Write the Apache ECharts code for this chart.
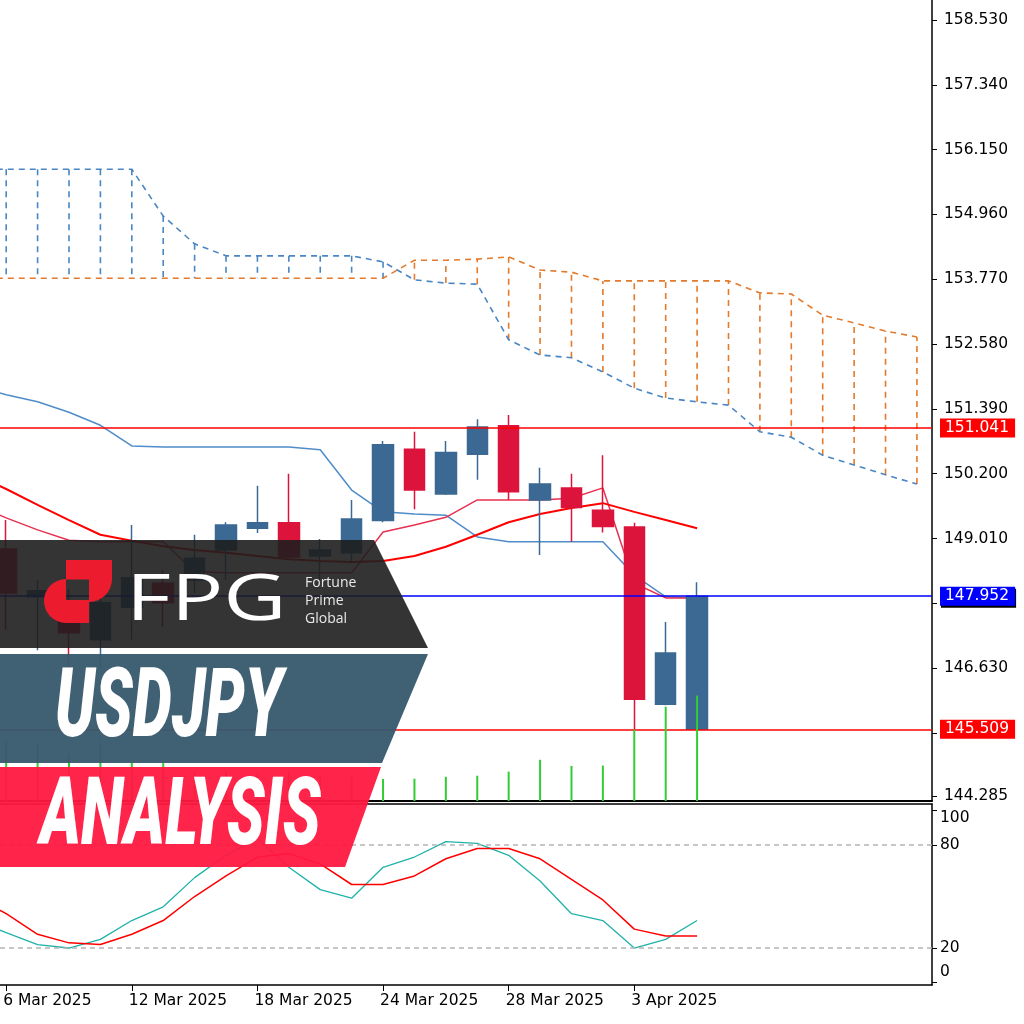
<!DOCTYPE html>
<html><head><meta charset="utf-8">
<script src="https://cdn.jsdelivr.net/npm/echarts@6/dist/echarts.min.js"></script>
<style>html,body{margin:0;padding:0;background:#fff}#c{width:1024px;height:1024px}</style>
</head><body><div id="c"></div>
<script>
// ---- data ----
const dates = ['6 Mar 2025','7 Mar 2025','10 Mar 2025','11 Mar 2025','12 Mar 2025','13 Mar 2025','14 Mar 2025','17 Mar 2025','18 Mar 2025','19 Mar 2025','20 Mar 2025','21 Mar 2025','24 Mar 2025','25 Mar 2025','26 Mar 2025','27 Mar 2025','28 Mar 2025','31 Mar 2025','1 Apr 2025','2 Apr 2025','3 Apr 2025','4 Apr 2025','7 Apr 2025'];
const open  = [148.82,147.94,147.79,147.15,147.75,148.19,148.25,148.80,149.20,149.30,148.69,148.75,149.34,150.65,149.83,150.56,151.08,149.72,149.94,149.53,149.22,145.97,145.51];
const close = [148.01,148.05,147.28,147.83,148.29,147.83,148.65,149.26,149.30,148.67,148.80,149.37,150.73,149.90,150.59,151.06,149.87,150.01,149.58,149.23,146.06,146.91,147.95];
const low   = [147.33,146.96,146.63,146.63,147.15,147.39,148.01,148.25,149.11,148.62,148.25,148.58,149.31,149.55,149.81,150.09,149.72,148.71,148.95,149.12,145.51,145.95,145.51];
const high  = [149.35,148.25,148.07,148.16,149.26,148.43,149.08,149.31,149.98,150.20,149.00,149.72,150.80,150.97,150.80,151.20,151.28,150.31,150.20,150.54,149.30,147.48,148.21];
const volume = [60200,58100,47300,58400,38200,37900,28000,30000,28000,30000,26000,24000,22100,22300,24200,25300,29400,41200,35100,35400,71300,94200,105400];

// indicator lines: first value belongs to the bar before 6 Mar (5 Mar)
const kijun  = [151.81,151.65,151.52,151.33,151.09,150.71,150.69,150.69,150.69,150.69,150.69,150.64,149.90,149.50,149.46,149.44,149.04,148.95,148.95,148.95,148.95,148.34,147.94,147.92];
const tenkan = [149.63,149.39,149.17,148.98,148.95,148.95,148.95,148.40,148.38,148.38,148.38,148.38,148.38,149.13,149.26,149.40,149.72,149.72,149.72,149.75,149.94,148.19,147.92,147.92];
const maLine = [150.18,149.92,149.63,149.35,149.08,148.97,148.87,148.80,148.75,148.69,148.63,148.60,148.58,148.60,148.69,148.86,149.08,149.31,149.46,149.57,149.66,149.50,149.35,149.20];
// cloud (shifted forward): bar -1 .. bar 29
const spanBlue   = [155.79,155.79,155.79,155.79,155.79,155.79,154.93,154.42,154.20,154.20,154.20,154.20,154.20,154.09,153.76,153.70,153.68,152.66,152.38,152.33,152.07,151.77,151.59,151.52,151.46,150.97,150.87,150.54,150.36,150.18,150.01];
const spanOrange = [153.79,153.79,153.79,153.79,153.79,153.79,153.79,153.79,153.79,153.79,153.79,153.79,153.79,153.79,154.12,154.12,154.14,154.18,153.94,153.90,153.74,153.74,153.74,153.74,153.74,153.52,153.50,153.11,152.97,152.82,152.71];
// stochastic: bar -1 .. bar 22
const stochK = [36,29,22,20,25,36,44,61,74,84,67,54,49,67,73,82,81,74,59,40,36,20,25,36];
const stochD = [50,40,28,23,22,28,36,50,62,73,75,69,57,57,62,72,78,78,72,60,48,31,27,27];

const priceTicks = [158.530,157.340,156.150,154.960,153.770,152.580,151.390,150.200,149.010,146.630,144.285];
const minorTicks = [147.820,145.440];
const levels = [151.041,147.952,145.509];
const stochLevels = [20,80];
const stochTicks = [0,20,80,100];
const dateTicks = [0,4,8,12,16,20];

// ---- styling ----
const BULL = '#3b6994', BEAR = '#dc143c';
const CLOUD_BLUE = '#4a86c4', CLOUD_ORANGE = '#e37a2c';
const FONT = 'DejaVu Sans';
const FS = 15.5;
const X_MIN = -0.197, X_MAX = 29.48;
const LOGO_RED = '#ec1c2e';

const candles = dates.map((d,i)=>[i, open[i], close[i], low[i], high[i]]);
const vols = volume.map((v,i)=>[i, v]);
const withPrev = arr => arr.map((v,i)=>[i-1, v]);
const cloud = spanBlue.map((v,i)=>[i-1, v, spanOrange[i]]);

const levelColors = ['#ff0000','#0000ff','#ff0000'];

const chart = echarts.init(document.getElementById('c'), null, {renderer:'canvas'});
const option = {
  animation:false,
  backgroundColor:'#ffffff',
  grid:[
    {left:0, top:0, width:932, height:801},
    {left:0, top:804, width:932, height:181}
  ],
  xAxis:[
    {type:'value', gridIndex:0, min:X_MIN, max:X_MAX,
     axisLine:{show:true, onZero:false, lineStyle:{color:'#000', width:2}},
     axisTick:{show:false}, axisLabel:{show:false}, splitLine:{show:false}},
    {type:'value', gridIndex:1, min:X_MIN, max:X_MAX, position:'bottom',
     axisLine:{show:true, onZero:false, lineStyle:{color:'#000', width:1.5}},
     axisTick:{show:true, customValues:dateTicks, length:6, lineStyle:{color:'#000'}},
     axisLabel:{show:true, customValues:dateTicks, formatter:v=>dates[Math.round(v)], align:'left',
       color:'#000', fontFamily:FONT, fontSize:FS, margin:8, padding:[0,0,0,-3]},
     splitLine:{show:false}},
    {type:'value', gridIndex:1, min:X_MIN, max:X_MAX, position:'top',
     axisLine:{show:true, onZero:false, lineStyle:{color:'#000', width:1.5}},
     axisTick:{show:false}, axisLabel:{show:false}, splitLine:{show:false}}
  ],
  yAxis:[
    {type:'value', gridIndex:0, position:'right', min:144.192, max:158.897, scale:true,
     axisLine:{show:true, onZero:false, lineStyle:{color:'#000', width:1.5}},
     axisTick:{show:true, customValues:priceTicks.concat(minorTicks), length:5, lineStyle:{color:'#000'}},
     axisLabel:{show:true, customValues:priceTicks, formatter:v=>v.toFixed(3), color:'#000', fontFamily:FONT, fontSize:FS, margin:12},
     splitLine:{show:false}},
    {type:'value', gridIndex:0, min:0, max:801000, show:false, axisLine:{onZero:false}, splitLine:{show:false}},
    {type:'value', gridIndex:1, position:'right', min:-1.55, max:103.9,
     axisLine:{show:true, onZero:false, lineStyle:{color:'#000', width:1.5}},
     axisTick:{show:true, customValues:stochTicks, length:5, lineStyle:{color:'#000'}},
     axisLabel:{show:true, customValues:stochTicks, color:'#000', fontFamily:FONT, fontSize:FS, margin:8,
       formatter:v=> v===100 ? '{t|100}' : (v===0 ? '{b|0}' : String(v)),
       rich:{t:{fontFamily:FONT, fontSize:FS, color:'#000', padding:[14,0,0,0]},
             b:{fontFamily:FONT, fontSize:FS, color:'#000', padding:[0,0,20,0]}}},
     splitLine:{show:false}}
  ],
  series:[
    {type:'custom', name:'cloud', xAxisIndex:0, yAxisIndex:0, data:cloud, encode:{x:0, y:[1,2]}, z:1, clip:true,
     renderItem:(params, api)=>{
       const x = api.value(0), a = api.value(1), b = api.value(2);
       const p1 = api.coord([x,a]), p2 = api.coord([x,b]);
       return {type:'line', shape:{x1:p1[0], y1:p1[1], x2:p2[0], y2:p2[1]},
         style:{stroke: a>=b ? CLOUD_BLUE : CLOUD_ORANGE, lineWidth:1.6, lineDash:[6,5]}};
     }},
    {type:'line', name:'Senkou Span A', xAxisIndex:0, yAxisIndex:0, data:withPrev(spanBlue), symbol:'none', z:2,
     lineStyle:{color:CLOUD_BLUE, width:1.6, type:[6,5]}},
    {type:'line', name:'Senkou Span B', xAxisIndex:0, yAxisIndex:0, data:withPrev(spanOrange), symbol:'none', z:2,
     lineStyle:{color:CLOUD_ORANGE, width:1.6, type:[6,5]}},
    {type:'line', name:'Kijun', xAxisIndex:0, yAxisIndex:0, data:withPrev(kijun), symbol:'none', z:3,
     lineStyle:{color:'#4f8cc9', width:1.5}},
    {type:'line', name:'Tenkan', xAxisIndex:0, yAxisIndex:0, data:withPrev(tenkan), symbol:'none', z:3,
     lineStyle:{color:'#e8304f', width:1.5}},
    {type:'line', name:'MA', xAxisIndex:0, yAxisIndex:0, data:withPrev(maLine), symbol:'none', z:3,
     lineStyle:{color:'#ff0000', width:2}},
    {type:'candlestick', name:'USDJPY', xAxisIndex:0, yAxisIndex:0, data:candles, encode:{x:0, y:[1,2,3,4]},
     barWidth:21, z:4,
     itemStyle:{color:BULL, color0:BEAR, borderColor:BULL, borderColor0:BEAR, borderWidth:1.5},
     markLine:{silent:true, symbol:['none','none'], animation:false, precision:3,
       data: levels.map((v,i)=>({yAxis:v,
         lineStyle:{color:levelColors[i], width:1.5, type:'solid'},
         label:{show:true, position:'end', distance:8, formatter:p=>levels[p.dataIndex].toFixed(3),
           color:'#fff', backgroundColor:levelColors[i], padding:[2,6,1,5], fontFamily:FONT, fontSize:FS,
           shadowColor: i===1 ? '#000' : 'transparent', shadowOffsetY: i===1 ? 2 : 0, shadowOffsetX: i===1 ? 1 : 0, shadowBlur:0}}))}},
    {type:'bar', name:'Volume', xAxisIndex:0, yAxisIndex:1, data:vols, barWidth:2, z:5,
     itemStyle:{color:'#32cd32'}},
    {type:'line', name:'%K', xAxisIndex:1, yAxisIndex:2, data:withPrev(stochK), symbol:'none', z:3,
     lineStyle:{color:'#20b2aa', width:1.3},
     markLine:{silent:true, symbol:['none','none'], label:{show:false},
       lineStyle:{color:'#b4b4b4', type:[5,4], width:1.5},
       data: stochLevels.map(v=>({yAxis:v}))}},
    {type:'line', name:'%D', xAxisIndex:1, yAxisIndex:2, data:withPrev(stochD), symbol:'none', z:3,
     lineStyle:{color:'#ff0000', width:1.5}}
  ],
  graphic:[
    {type:'polygon', z:100, shape:{points:[[0,540],[374,540],[428,648],[0,648]]}, style:{fill:'rgba(30,30,30,0.9)'}},
    {type:'polygon', z:100, shape:{points:[[0,654],[428,654],[382,763],[0,763]]}, style:{fill:'rgba(56,89,110,0.96)'}},
    {type:'polygon', z:100, shape:{points:[[0,767],[381,767],[345,867],[0,867]]}, style:{fill:'rgba(255,24,64,0.95)'}},
    {type:'rect', z:101, shape:{x:66, y:560, width:46, height:19.5}, style:{fill:LOGO_RED}},
    {type:'sector', z:101, shape:{cx:89, cy:579, r:23, r0:0, startAngle:0, endAngle:Math.PI/2, clockwise:true}, style:{fill:LOGO_RED}},
    {type:'sector', z:101, shape:{cx:66, cy:601, r:22, r0:0, startAngle:Math.PI/2, endAngle:Math.PI*1.5, clockwise:true}, style:{fill:LOGO_RED}},
    {type:'rect', z:101, shape:{x:65.5, y:600, width:23.5, height:23}, style:{fill:LOGO_RED}},
    {type:'text', z:101, x:126, y:602, scaleX:1.36, style:{text:'FPG', fill:'#ffffff', font:'400 64px "Open Sans"', verticalAlign:'middle', align:'left'}},
    {type:'text', z:101, x:305, y:601, style:{text:'Fortune\nPrime\nGlobal', fill:'#e8e8e8', font:'14px "Open Sans"', lineHeight:18, verticalAlign:'middle', align:'left'}},
    {type:'text', z:101, x:55, y:712, scaleX:0.64, style:{text:'USDJPY', fill:'#ffffff', font:'italic 900 97px Roboto', verticalAlign:'middle', align:'left'}},
    {type:'text', z:101, x:40, y:820, scaleX:0.655, style:{text:'ANALYSIS', fill:'#ffffff', font:'italic 900 95px Roboto', verticalAlign:'middle', align:'left'}}
  ]
};
chart.setOption(option);
</script>
</body></html>
